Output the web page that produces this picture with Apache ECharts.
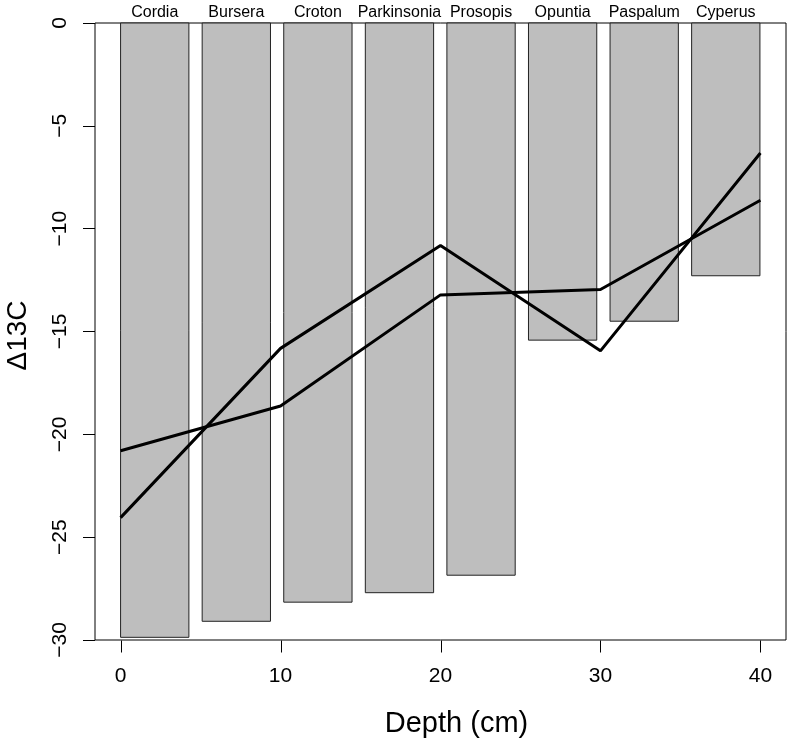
<!DOCTYPE html>
<html>
<head>
<meta charset="utf-8">
<script src="https://cdn.jsdelivr.net/npm/echarts@6/dist/echarts.min.js"></script>
<style>html,body{margin:0;padding:0;background:#fff}#c{width:791px;height:744px}</style>
</head>
<body>
<div id="c"></div>
<script>
// ---- data ----
const species = ["Cordia","Bursera","Croton","Parkinsonia","Prosopis","Opuntia","Paspalum","Cyperus"];
const speciesD13C = [-29.87, -29.09, -28.16, -27.7, -26.85, -15.42, -14.5, -12.29];
const depth = [0, 10, 20, 30, 40];
const lineA = [-24.05, -15.82, -10.82, -15.94, -6.32];
const lineB = [-20.8, -18.62, -13.22, -12.96, -8.62];
const xTicks = [0, 10, 20, 30, 40];
const xTickMin = 0, xTickMax = 40, xTickStep = 10;
const yTickMin = -30, yTickMax = 0, yTickStep = 5;

// ---- style constants ----
const BAR_PITCH = 5.1, BAR_WIDTH = 4.27;
const X_PAD = 1.6;           // R's 4% axis extension
const TICK_LEN = 12;
const FONT = "Liberation Sans, Arial, Helvetica, sans-serif";
const G = {left: 95, right: 5, top: 23, bottom: 104};
const plotW = 791 - G.left - G.right;
const pxPerUnit = plotW / (xTickMax - xTickMin + 2 * X_PAD);
const padPx = X_PAD * pxPerUnit;

const chart = echarts.init(document.getElementById('c'), null, {renderer:'canvas'});
const option = {
  animation: false,
  backgroundColor: '#fff',
  grid: [
    {left: G.left, right: G.right, top: G.top, bottom: G.bottom, show: true, borderColor: '#000', borderWidth: 1,
     backgroundColor: 'transparent', containLabel: false, outerBoundsMode: 'none'},
    {left: G.left + padPx, right: G.right + padPx, top: G.top, bottom: G.bottom, show: false,
     containLabel: false, outerBoundsMode: 'none'}
  ],
  xAxis: [
    {
      gridIndex: 0, type: 'value', min: xTickMin - X_PAD, max: xTickMax + X_PAD,
      axisLine: {show: false, onZero: false}, splitLine: {show: false},
      axisTick: {show: false}, axisLabel: {show: false}
    },
    {
      gridIndex: 1, type: 'value', min: xTickMin, max: xTickMax, interval: xTickStep,
      name: 'Depth (cm)', nameLocation: 'middle', nameGap: 69,
      nameTextStyle: {fontFamily: FONT, fontSize: 29, color: '#000', padding: [0, 0, 0, 32]},
      axisLine: {show: false, onZero: false}, splitLine: {show: false},
      axisTick: {show: false},
      axisLabel: {fontFamily: FONT, fontSize: 21, color: '#000', margin: 26}
    }
  ],
  yAxis: [
    {
      gridIndex: 0, type: 'value', min: yTickMin, max: yTickMax, interval: yTickStep,
      name: 'Δ13C', nameLocation: 'middle', nameGap: 63, nameRotate: 90,
      nameTextStyle: {fontFamily: FONT, fontSize: 28, color: '#000', padding: [0, 8, 0, 0]},
      axisLine: {show: false, onZero: false}, splitLine: {show: false},
      axisTick: {show: true, inside: false, length: TICK_LEN, lineStyle: {color: '#000', width: 1}},
      axisLabel: {fontFamily: FONT, fontSize: 21, color: '#000', margin: 24, rotate: 90,
        formatter: v => (v < 0 ? '\u2212' + Math.abs(v) : String(v))}
    },
    {
      gridIndex: 1, type: 'value', min: yTickMin, max: yTickMax, show: false
    }
  ],
  series: [
    {
      type: 'custom', z: 1, clip: false, xAxisIndex: 0, yAxisIndex: 0,
      data: speciesD13C.map((v, i) => [i, v]),
      renderItem: function (params, api) {
        const i = api.value(0), v = api.value(1);
        const x0 = i * BAR_PITCH, x1 = x0 + BAR_WIDTH;
        const p0 = api.coord([x0, 0]);
        const p1 = api.coord([x1, v]);
        return {
          type: 'group',
          children: [
            {type: 'rect', shape: {x: p0[0], y: p0[1], width: p1[0] - p0[0], height: p1[1] - p0[1]},
             style: {fill: '#bebebe', stroke: '#222', lineWidth: 1}},
            {type: 'text', x: (p0[0] + p1[0]) / 2, y: p0[1] - 10,
             style: {text: species[i], fontFamily: FONT, fontSize: 16, fill: '#000', align: 'center', verticalAlign: 'middle'}}
          ]
        };
      }
    },
    {
      // x-axis tick marks, placed through the x scale
      type: 'custom', z: 5, clip: false, xAxisIndex: 0, yAxisIndex: 0, silent: true,
      data: xTicks.map(v => [v, yTickMin]),
      renderItem: function (params, api) {
        const p = api.coord([api.value(0), api.value(1)]);
        const x = Math.round(p[0]) + 0.5, y = Math.round(p[1]) + 0.5;
        return {type: 'line', shape: {x1: x, y1: y, x2: x, y2: y + TICK_LEN},
                style: {stroke: '#000', lineWidth: 1}};
      }
    },
    {type: 'line', z: 3, xAxisIndex: 0, yAxisIndex: 0, data: depth.map((d, i) => [d, lineA[i]]), symbol: 'none', lineStyle: {color: '#000', width: 3}},
    {type: 'line', z: 3, xAxisIndex: 0, yAxisIndex: 0, data: depth.map((d, i) => [d, lineB[i]]), symbol: 'none', lineStyle: {color: '#000', width: 3}}
  ]
};
chart.setOption(option);
</script>
</body>
</html>
